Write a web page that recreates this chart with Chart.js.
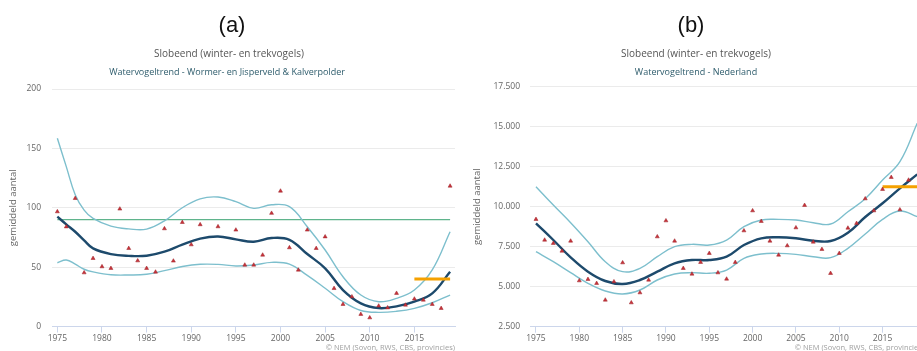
<!DOCTYPE html>
<html>
<head>
<meta charset="utf-8">
<script src="https://cdn.jsdelivr.net/npm/chart.js@4.4.1/dist/chart.umd.min.js"></script>
<style>
  body { margin: 0; width: 917px; height: 351px; overflow: hidden; background: #fff; position: relative; font-family: "Open Sans", sans-serif; }
  .panel { position: absolute; top: 0; height: 351px; overflow: visible; }
  #panelA { left: 0; width: 460px; }
  #panelB { left: 460px; width: 467px; }
  canvas { position: absolute; left: 0; top: 0; }
  .tag { position: absolute; top: 14px; font: 22px/22px "Liberation Sans", Arial, sans-serif; color: #111; transform: translateX(-50%); white-space: nowrap; }
  .title { position: absolute; top: 47px; font-size: 10px; line-height: 12px; color: #555; transform: translateX(-50%); white-space: nowrap; }
  .subtitle { position: absolute; top: 66px; font-size: 9px; line-height: 11px; color: #2e5c6c; transform: translateX(-50%); white-space: nowrap; }
  .credit { position: absolute; top: 343px; font-size: 7.5px; line-height: 9px; color: #a0a0a0; white-space: nowrap; }
</style>
</head>
<body>
<div class="panel" id="panelA">
  <canvas id="chartA" width="460" height="351"></canvas>
  <div class="tag" style="left:232px">(a)</div>
  <div class="title" style="left:229px">Slobeend (winter- en trekvogels)</div>
  <div class="subtitle" style="left:227px">Watervogeltrend - Wormer- en Jisperveld &amp; Kalverpolder</div>
  <div class="credit" style="right:5px">© NEM (Sovon, RWS, CBS, provincies)</div>
</div>
<div class="panel" id="panelB">
  <canvas id="chartB" width="467" height="351"></canvas>
  <div class="tag" style="left:231px">(b)</div>
  <div class="title" style="left:236px">Slobeend (winter- en trekvogels)</div>
  <div class="subtitle" style="left:236px">Watervogeltrend - Nederland</div>
  <div class="credit" style="right:3px">© NEM (Sovon, RWS, CBS, provincies)</div>
</div>
<script>
"use strict";

// 1: data
const xTicks = [1975, 1980, 1985, 1990, 1995, 2000, 2005, 2010, 2015];
const yTicksA = [0, 50, 100, 150, 200];
const yTicksB = [2500, 5000, 7500, 10000, 12500, 15000, 17500];

// yearly counts, Wormer- en Jisperveld & Kalverpolder (1975-2019)
const countYearsA = [1975, 1976, 1977, 1978, 1979, 1980, 1981, 1982, 1983, 1984, 1985, 1986, 1987, 1988, 1989,
  1990, 1991, 1992, 1993, 1994, 1995, 1996, 1997, 1998, 1999, 2000, 2001, 2002, 2003, 2004,
  2005, 2006, 2007, 2008, 2009, 2010, 2011, 2012, 2013, 2014, 2015, 2016, 2017, 2018, 2019];
const countsA = [96.7, 84, 107.9, 45.3, 57.4, 50.4, 49, 99, 65.8, 55.4, 49, 45.9, 82.4, 55.2, 87.7,
  68.9, 85.8, null, 84.1, null, 81.3, 51.8, 51.8, 60.2, 95.4, 114.1, 66.4, 47.6, 81.3, 65.8,
  75.6, 32.1, 18.7, 25.1, 10.3, 7.4, 17.3, 15.8, 28, 18.1, 23.2, 22.3, 18.7, 15.3, 118.3];

// trend with upper/lower bounds
const curveYearsA = [1975, 1976, 1977, 1978, 1979, 1981, 1983, 1985, 1987, 1989, 1991, 1993, 1995,
  1997, 1999, 2001, 2003, 2005, 2007, 2009, 2011, 2013, 2015, 2017, 2019];
const trendA = [92.5, 86, 79.8, 72.5, 65.8, 61, 59.5, 59.6, 63, 69, 74, 75.8, 73.4,
  71.4, 74.5, 73, 61, 49, 30.7, 19.5, 15.5, 17, 20.9, 27.9, 46.1];
const upperA = [158.5, 134.6, 111, 98, 91, 84.5, 82.2, 82, 89, 100, 107.5, 109, 105.1,
  99.5, 102.5, 100.9, 84, 64.4, 41.9, 26.5, 20.9, 23.7, 30.7, 47.6, 79.8];
const lowerA = [53.7, 56, 52.5, 48.2, 46, 43.6, 43.4, 44, 47, 50.5, 52.4, 52.3, 51,
  51.8, 54, 52.5, 43, 32.2, 20.9, 13.5, 11.9, 12.8, 15.3, 20, 26.5];

const refYearsA = [1975, 2019];
const refA = [90, 90];
const recentYearsA = [2015, 2019];
const recentA = [40, 40];

// yearly counts, Nederland (1975-2018)
const countYearsB = [1975, 1976, 1977, 1978, 1979, 1980, 1981, 1982, 1983, 1984, 1985, 1986, 1987, 1988, 1989,
  1990, 1991, 1992, 1993, 1994, 1995, 1996, 1997, 1998, 1999, 2000, 2001, 2002, 2003, 2004,
  2005, 2006, 2007, 2008, 2009, 2010, 2011, 2012, 2013, 2014, 2015, 2016, 2017, 2018];
const countsB = [9213, 7917, 7713, 7231, 7856, 5375, 5463, 5213, 4169, 5313, 6500, 4000, 4625, 5419, 8125,
  9125, 7856, 6150, 5794, 6525, 7088, 5875, 5481, 6525, 8500, 9750, 9088, 7856, 6979, 7563,
  8688, 10088, 7794, 7338, 5838, 7088, 8667, 8963, 10500, 9750, 11088, 11838, 9813, 11667];

const curveYearsB = [1975, 1977, 1979, 1981, 1983, 1985, 1987, 1989, 1991, 1993, 1995, 1997,
  1999, 2001, 2003, 2005, 2007, 2009, 2011, 2013, 2015, 2017, 2019];
const trendB = [8961, 7919, 6836, 5939, 5356, 5169, 5419, 5939, 6463, 6669, 6667, 6875,
  7604, 8025, 8088, 8025, 7875, 7854, 8375, 9354, 10213, 11146, 12021];
const upperB = [11252, 10106, 9002, 7814, 6564, 5939, 6148, 6877, 7502, 7648, 7604, 7917,
  8750, 9167, 9208, 9167, 9000, 8917, 9688, 10500, 11667, 12813, 15213];
const lowerB = [7189, 6564, 5877, 5211, 4731, 4544, 4794, 5419, 5794, 5877, 5838, 6042,
  6775, 7042, 7083, 7021, 6875, 6813, 7400, 8292, 9213, 9729, 9375];

const recentYearsB = [2015, 2019];
const recentB = [11250, 11250];

// 2: helpers
function toPoints(xs, ys) {
  return xs.map((x, i) => ({ x: x, y: ys[i] }));
}

function dotted(n) {
  return String(n).replace(/\B(?=(\d{3})+(?!\d))/g, ".");
}

const tickFont = { family: "Open Sans", size: 8.5 };

function lineSet(xs, ys, color, width) {
  return {
    data: toPoints(xs, ys),
    borderColor: color,
    borderWidth: width,
    pointRadius: 0,
    tension: 0.4,
    fill: false
  };
}

// 3: create a chart
function appendChart(id, s) {
  const datasets = [{
    data: toPoints(s.countYears, s.counts),
    showLine: false,
    pointStyle: "triangle",
    pointRadius: 2.3,
    pointBackgroundColor: "#c8323a",
    pointBorderColor: "#9b2228",
    pointBorderWidth: 0.5
  },
    lineSet(s.recentYears, s.recent, "#f5a100", 3),
    lineSet(s.curveYears, s.trend, "#1d4a6c", 2.4),
    lineSet(s.curveYears, s.upper, "#7dbfcd", 1.4),
    lineSet(s.curveYears, s.lower, "#7dbfcd", 1.4)
  ];
  if (s.ref) datasets.push(lineSet(s.refYears, s.ref, "#5fb48c", 1.4));

  return new Chart(document.getElementById(id), {
    type: "line",
    data: { datasets: datasets },
    options: {
      responsive: false,
      animation: false,
      layout: { padding: { top: s.top, right: 5, left: 0, bottom: 0 } },
      plugins: { legend: { display: false }, tooltip: { enabled: false } },
      scales: {
        x: {
          type: "linear",
          min: s.xMin,
          max: s.xMax,
          afterBuildTicks: sc => { sc.ticks = xTicks.map(v => ({ value: v })); },
          afterFit: sc => { sc.height = 351 - s.bottom; },
          grid: { drawOnChartArea: false, color: "#ccd6eb", tickLength: 6 },
          border: { color: "#ccd6eb" },
          ticks: { font: tickFont, color: "#666", padding: 1, maxRotation: 0, callback: v => String(v) }
        },
        y: {
          min: s.yTicks[0],
          max: s.yTicks[s.yTicks.length - 1],
          afterBuildTicks: sc => { sc.ticks = s.yTicks.map(v => ({ value: v })); },
          afterFit: sc => { sc.width = s.left; },
          grid: { color: "#ebebeb", drawTicks: false },
          border: { display: false },
          ticks: { font: tickFont, color: "#666", padding: s.labelPad, callback: v => dotted(v) },
          title: {
            display: true,
            text: "gemiddeld aantal",
            font: { family: "Open Sans", size: 9.5 },
            color: "#666",
            padding: { top: s.titlePad, bottom: 0 }
          }
        }
      }
    }
  });
}

appendChart("chartA", {
  countYears: countYearsA, counts: countsA,
  curveYears: curveYearsA, trend: trendA, upper: upperA, lower: lowerA,
  recentYears: recentYearsA, recent: recentA,
  refYears: refYearsA, ref: refA,
  yTicks: yTicksA, xMin: 1974.4, xMax: 2019.55,
  top: 89, bottom: 326.5, left: 52, labelPad: 11, titlePad: 8
});

appendChart("chartB", {
  countYears: countYearsB, counts: countsB,
  curveYears: curveYearsB, trend: trendB, upper: upperB, lower: lowerB,
  recentYears: recentYearsB, recent: recentB,
  yTicks: yTicksB, xMin: 1974.31, xMax: 2019.55,
  top: 86.7, bottom: 326.7, left: 70, labelPad: 10, titlePad: 12
});
</script>
</body>
</html>
